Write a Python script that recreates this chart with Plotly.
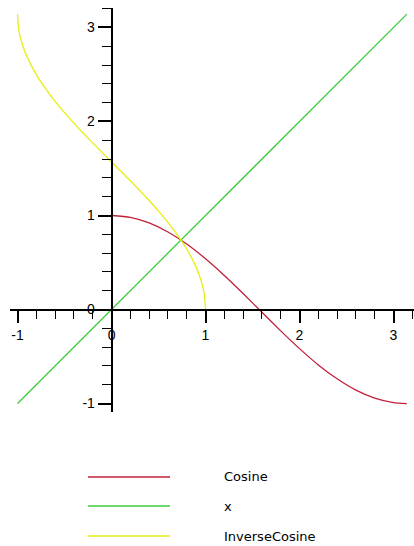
import plotly.graph_objects as go

# Sampled curve values
cos_x = [0.0, 0.2, 0.4, 0.6, 0.8, 1.0, 1.2, 1.4, 1.6, 1.8, 2.0, 2.2, 2.4, 2.6, 2.8, 3.0, 3.1416]
cos_y = [1.0, 0.980, 0.921, 0.825, 0.697, 0.540, 0.362, 0.170, -0.029, -0.227, -0.416,
         -0.589, -0.737, -0.857, -0.942, -0.990, -1.0]

line_x = [-1.0, 3.1416]
line_y = [-1.0, 3.1416]

acos_x = [-1.0, -0.99, -0.98, -0.95, -0.9, -0.8, -0.7, -0.6, -0.5, -0.4, -0.3, -0.2, -0.1,
          0.0, 0.1, 0.2, 0.3, 0.4, 0.5, 0.6, 0.7, 0.8, 0.9, 0.95, 0.98, 0.99, 1.0]
acos_y = [3.142, 3.000, 2.941, 2.824, 2.691, 2.498, 2.346, 2.214, 2.094, 1.982, 1.875, 1.772,
          1.671, 1.571, 1.471, 1.369, 1.266, 1.159, 1.047, 0.927, 0.795, 0.644, 0.451, 0.318,
          0.200, 0.142, 0.0]

series_names = ["Cosine", "x", "InverseCosine"]
series_colors = ["#c0203a", "#3ccc3c", "#e8ee10"]

tick_vals = [-1, 0, 1, 2, 3]
tick_text = ["-1", "0", "1", "2", "3"]

W, H = 414, 546
ML, MR, MT, MB = 10, 0, 8, 134
x_range = [-1.08, 3.218]
y_range = [-1.09, 3.207]

fig = go.Figure()
for (xs, ys), name, color in zip([(cos_x, cos_y), (line_x, line_y), (acos_x, acos_y)],
                                 series_names, series_colors):
    fig.add_trace(go.Scatter(x=xs, y=ys, mode="lines", name=name,
                             line=dict(color=color, width=1.3, shape="spline", smoothing=0.6),
                             showlegend=False, hoverinfo="skip"))

tick_font = dict(family="Liberation Sans", size=14, color="black")

axis_common = dict(
    showgrid=False, zeroline=False, showline=True, linecolor="black", linewidth=1.6,
    ticks="outside", ticklen=13, tickwidth=1.5, tickcolor="black",
    tickvals=tick_vals, ticktext=tick_text, tickfont=tick_font,
    minor=dict(dtick=0.2, tick0=0, ticks="outside", ticklen=9, tickwidth=1.4, tickcolor="black"),
    anchor="free",
)

# Axes cross at the origin
x_pos = (0 - y_range[0]) / (y_range[1] - y_range[0])
y_pos = (0 - x_range[0]) / (x_range[1] - x_range[0])

fig.update_layout(
    width=W, height=H,
    margin=dict(l=ML, r=MR, t=MT, b=MB),
    paper_bgcolor="white", plot_bgcolor="white",
    xaxis=dict(range=x_range, position=x_pos, **axis_common),
    yaxis=dict(range=y_range, position=y_pos, **axis_common),
    showlegend=False,
)

# Legend drawn below the plot
plot_w = W - ML - MR
plot_h = H - MT - MB


def px_x(px):
    return (px - ML) / plot_w


def px_y(py):
    return (H - MB - py) / plot_h


legend_rows = [477, 506, 536]
for name, color, row in zip(series_names, series_colors, legend_rows):
    fig.add_shape(type="line", xref="paper", yref="paper",
                  x0=px_x(88), x1=px_x(170), y0=px_y(row), y1=px_y(row),
                  line=dict(color=color, width=1.6))
    fig.add_annotation(xref="paper", yref="paper", x=px_x(222), y=px_y(row),
                       text=name, showarrow=False, xanchor="left", yanchor="middle",
                       font=dict(family="DejaVu Sans", size=13, color="black"))

fig.write_html("out.html")
